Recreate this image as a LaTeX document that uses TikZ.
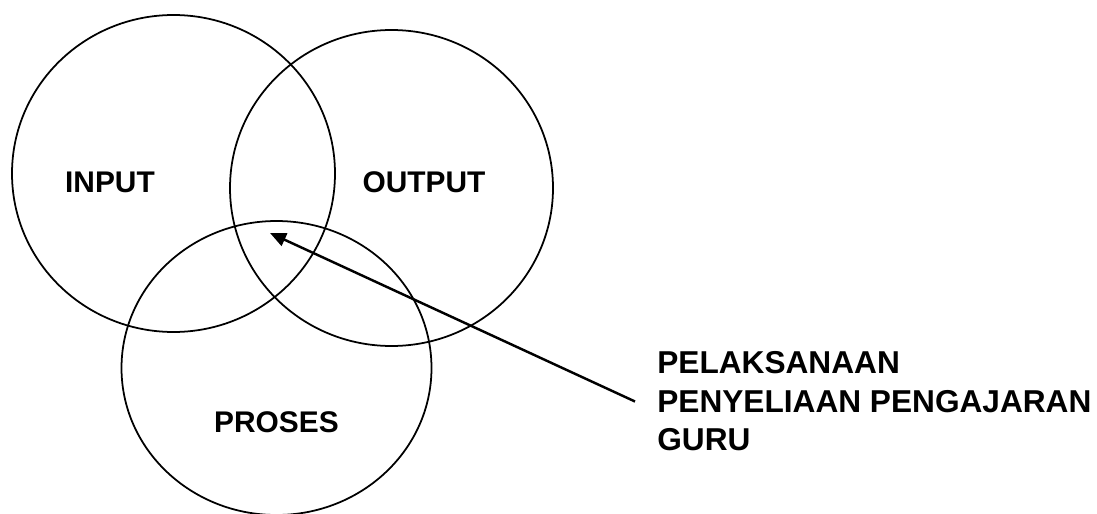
\documentclass[tikz,border=0pt]{standalone}
\usepackage{fontspec}
\setmainfont{Liberation Sans}
\usetikzlibrary{arrows.meta,shapes.geometric}
\begin{document}
\begin{tikzpicture}[
    set/.style={draw, ellipse, line width=1pt, inner sep=0pt},
    lbl/.style={font=\fontsize{17}{20}\selectfont\bfseries, inner sep=0pt},
    note/.style={font=\fontsize{18}{21.9}\selectfont\bfseries, align=left, inner xsep=0.44cm, inner ysep=0pt, anchor=west},
    pointer/.style={-{Triangle[length=0.32cm, width=0.27cm]}, line width=1.4pt},
  ]
    \useasboundingbox (0,0) rectangle (21.94,-10.28);
    \node[set, minimum width=6.46cm, minimum height=6.34cm] (input) at (3.47,-3.47) {};
    \node[set, minimum width=6.46cm, minimum height=6.32cm] (output) at (7.83,-3.76) {};
    \node[set, minimum width=6.20cm, minimum height=5.88cm] (proses) at (5.53,-7.36) {};
    \node[lbl] (tin) at (2.20,-3.64) {INPUT};
    \node[lbl] (tout) at (8.48,-3.64) {OUTPUT};
    \node[lbl] (tpro) at (5.53,-8.44) {PROSES};
    \node[note] (guru) at (12.70,-8.03) {PELAKSANAAN\\PENYELIAAN PENGAJARAN\\GURU};
    \coordinate (core) at (5.40,-4.66);
    \draw[pointer] (guru.west) -- (core);
  \end{tikzpicture}
\end{document}
